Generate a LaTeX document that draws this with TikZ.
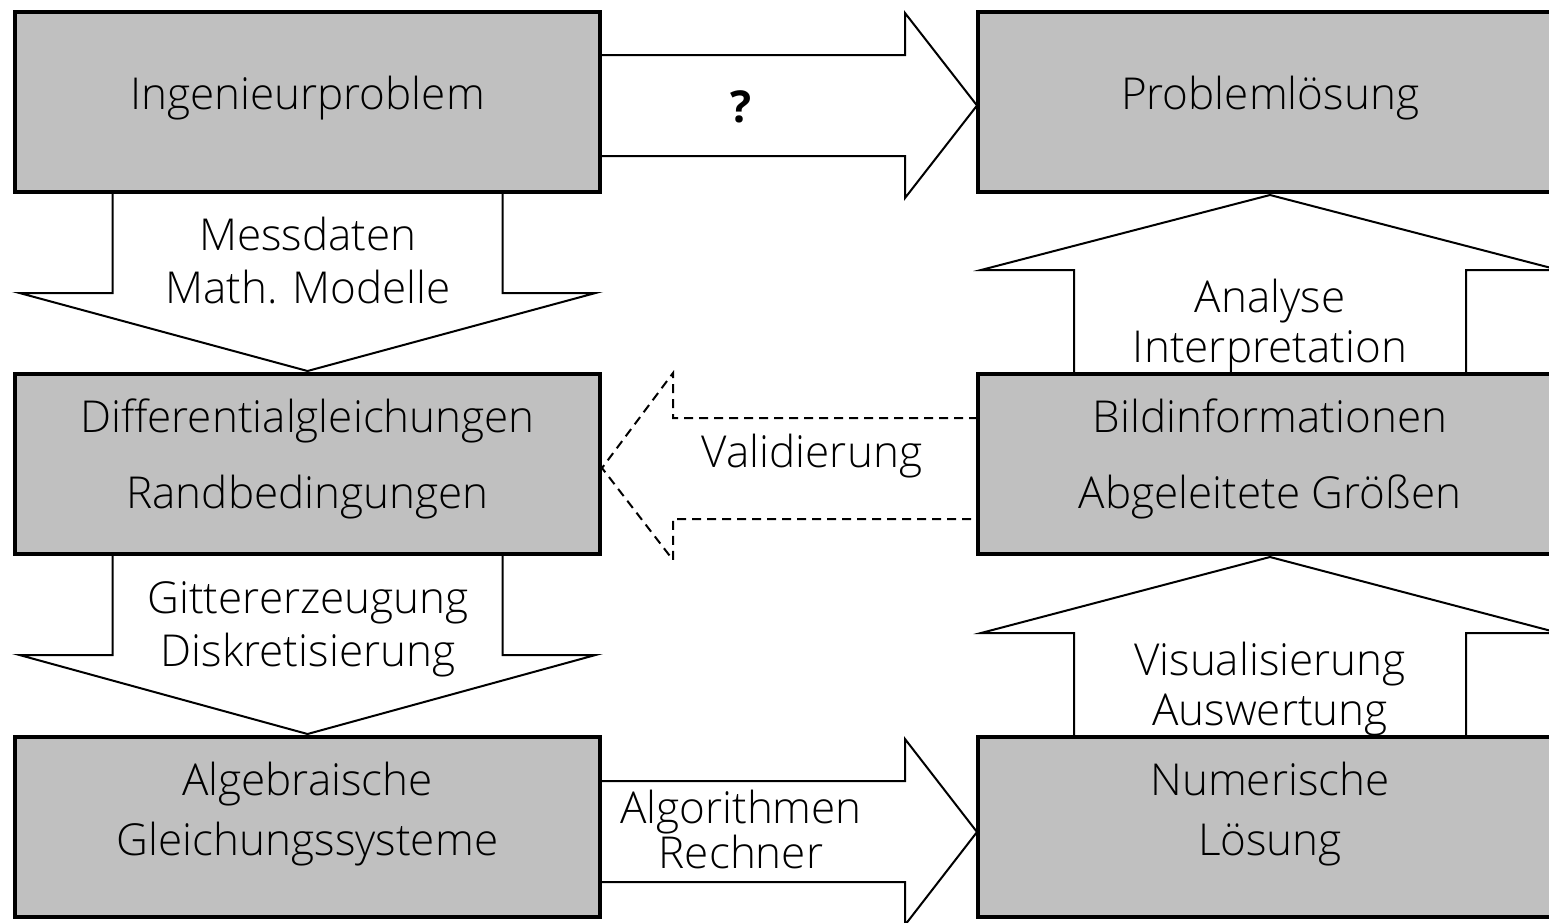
\documentclass[tikz,border=0pt]{standalone}
\usepackage{fontspec}
\setmainfont{Open Sans}[UprightFont={* Light}, BoldFont={* Bold}]
\usetikzlibrary{calc,backgrounds}
\definecolor{boxgray}{HTML}{C0C0C0}
\tikzset{
  box/.style={draw, line width=4pt, fill=boxgray, minimum width=585pt, minimum height=180pt, inner sep=0pt, outer sep=0pt},
  rbox/.style={box, minimum width=584pt},
  bigarrow/.style={draw, line width=2pt, fill=white, line join=miter},
  dasharrow/.style={bigarrow, dash pattern=on 9pt off 6pt},
  lbl/.style={font=\fontsize{44}{52}\selectfont, inner sep=0pt, anchor=base},
}
\begin{document}
\begin{tikzpicture}[x=1pt,y=-1pt]
\useasboundingbox (0,0) rectangle (1549,922);
% boxes
\node[box]  (ing)  at (307.5,102) {};
\node[rbox] (pl)   at (1270,102) {};
\node[box]  (dgl)  at (307.5,464) {};
\node[rbox] (bild) at (1270,464) {};
\node[box]  (alg)  at (307.5,827) {};
\node[rbox] (num)  at (1270,827) {};
% block arrows
\begin{scope}[on background layer]
  % Ingenieurproblem -> Problemloesung
  \draw[bigarrow] ($(ing.east)+(0,-47)$) -- ($(ing.east)+(305,-47)$) -- ($(ing.east)+(305,-89)$)
     -- ($(pl.west)+(-1,3.5)$) -- ($(ing.east)+(305,96)$) -- ($(ing.east)+(305,54)$) -- ($(ing.east)+(0,54)$) -- cycle;
  % Ingenieurproblem -> Differentialgleichungen
  \draw[bigarrow] ($(ing.south)+(-195,0)$) -- ($(ing.south)+(-195,101)$) -- ($(ing.south)+(-288,101)$)
     -- ($(dgl.north)+(0,-3)$) -- ($(ing.south)+(288,101)$) -- ($(ing.south)+(195,101)$) -- ($(ing.south)+(195,0)$) -- cycle;
  % Differentialgleichungen -> Algebraische
  \draw[bigarrow] ($(dgl.south)+(-195,0)$) -- ($(dgl.south)+(-195,101)$) -- ($(dgl.south)+(-288,101)$)
     -- ($(alg.north)+(0,-3)$) -- ($(dgl.south)+(288,101)$) -- ($(dgl.south)+(195,101)$) -- ($(dgl.south)+(195,0)$) -- cycle;
  % Algebraische -> Numerische
  \draw[bigarrow] ($(alg.east)+(0,-46)$) -- ($(alg.east)+(305,-46)$) -- ($(alg.east)+(305,-88)$)
     -- ($(num.west)+(-1,5)$) -- ($(alg.east)+(305,98)$) -- ($(alg.east)+(305,55)$) -- ($(alg.east)+(0,55)$) -- cycle;
  % Numerische -> Bildinformationen
  \draw[bigarrow] ($(num.north)+(-196,0)$) -- ($(num.north)+(-196,-104)$) -- ($(num.north)+(-289,-104)$)
     -- ($(bild.south)+(0,3)$) -- ($(num.north)+(289,-104)$) -- ($(num.north)+(196,-104)$) -- ($(num.north)+(196,0)$) -- cycle;
  % Bildinformationen -> Problemloesung
  \draw[bigarrow] ($(bild.north)+(-196,0)$) -- ($(bild.north)+(-196,-104)$) -- ($(bild.north)+(-289,-104)$)
     -- ($(pl.south)+(0,3)$) -- ($(bild.north)+(289,-104)$) -- ($(bild.north)+(196,-104)$) -- ($(bild.north)+(196,0)$) -- cycle;
  % Bildinformationen -> Differentialgleichungen (dashed)
  \draw[dasharrow] ($(bild.west)+(0,-46)$) -- ($(dgl.east)+(73,-46)$) -- ($(dgl.east)+(73,-91)$)
     -- ($(dgl.east)+(2,4)$) -- ($(dgl.east)+(73,96)$) -- ($(dgl.east)+(73,55)$) -- ($(bild.west)+(0,55)$);
\end{scope}
% box texts
\node[lbl] (t1) at (307.5,109) {Ingenieurproblem};
\node[lbl] (t2) at (1270,109) {Problemlösung};
\node[lbl] (t3) at (307.5,432) {Differentialgleichungen};
\node[lbl] (t4) at (307.5,508) {Randbedingungen};
\node[lbl] (t5) at (1270,432) {Bildinformationen};
\node[lbl] (t6) at (1270,508) {Abgeleitete Größen};
\node[lbl] (t7) at (307.5,795) {Algebraische};
\node[lbl] (t8) at (307.5,855) {Gleichungssysteme};
\node[lbl] (t9) at (1270,795) {Numerische};
\node[lbl] (t10) at (1270,855) {Lösung};
% arrow labels
\node[lbl] (q) at (741,122) {\bfseries ?};
\node[lbl] (a1) at (308,250) {Messdaten};
\node[lbl] (a2) at (308,303) {Math. Modelle};
\node[lbl] (a3) at (308,613) {Gittererzeugung};
\node[lbl] (a4) at (308,666) {Diskretisierung};
\node[lbl] (a5) at (1270,312) {Analyse};
\node[lbl] (a6) at (1270,362) {Interpretation};
\node[lbl] (a7) at (1270,675) {Visualisierung};
\node[lbl] (a8) at (1270,725) {Auswertung};
\node[lbl] (a9) at (812,467) {Validierung};
\node[lbl] (a10) at (741,823) {Algorithmen};
\node[lbl] (a11) at (741,868) {Rechner};
\end{tikzpicture}
\end{document}
